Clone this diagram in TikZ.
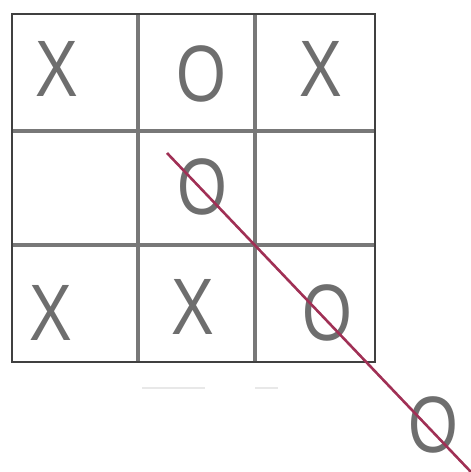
\documentclass[tikz,border=0pt]{standalone}
\usepackage{fontspec}
\setmainfont{Liberation Sans}
\usetikzlibrary{positioning}
\definecolor{markgray}{RGB}{110,110,110}
\definecolor{gridgray}{RGB}{120,120,120}
\definecolor{strike}{RGB}{160,48,85}

\begin{document}
\begin{tikzpicture}[x=1pt, y=-1pt,
    cellmark/.style={text=markgray, font=\fontsize{80}{80}\selectfont, inner sep=0pt, xscale=0.8},
    gridline/.style={gridgray, line width=3.5pt},
    frameline/.style={black!75, line width=2.5pt}]
  \useasboundingbox (0,0) rectangle (471,472);
  % Inner grid lines
  \draw[gridline] (138,14) -- (138,362);
  \draw[gridline] (255,14) -- (255,362);
  \draw[gridline] (12,131) -- (375,131);
  \draw[gridline] (12,245) -- (375,245);
  % Outer frame
  \draw[frameline] (12,14) rectangle (375,362);
  % Marks, row by row
  \node[cellmark] (x11) at (57,69)  {X};
  \node[cellmark] (o12) at (201,74) {O};
  \node[cellmark] (x13) at (321,69) {X};
  \node[cellmark] (o22) at (202,187) {O};
  \node[cellmark] (x31) at (51,313) {X};
  \node[cellmark] (x32) at (193,307) {X};
  \node[cellmark] (o33) at (327,313) {O};
  % Mark outside the grid
  \node[cellmark] (o44) at (433,425) {O};
  % Faint marks under the grid
  \draw[gray!18, line width=1.5pt] (142,388) -- (205,388);
  \draw[gray!18, line width=1.5pt] (255,388) -- (278,388);
  % Winning line
  \coordinate (start) at (167,153);
  \coordinate (end) at (471,472);
  \draw[strike, line width=2.6pt] (start) -- (end);
\end{tikzpicture}
\end{document}
